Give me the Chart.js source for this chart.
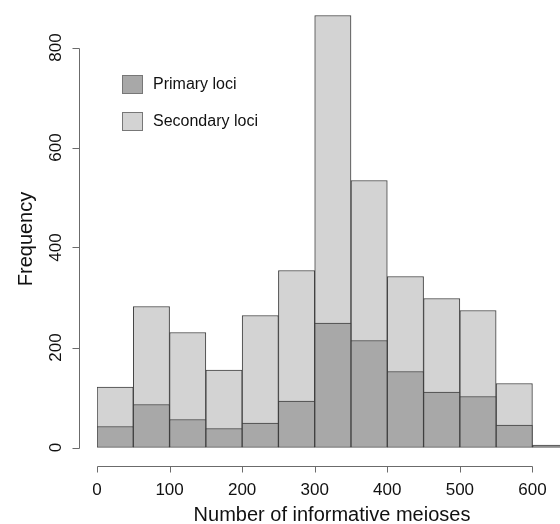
<!DOCTYPE html>
<html>
<head>
<meta charset="utf-8">
<script src="https://cdn.jsdelivr.net/npm/chart.js@4"></script>
<style>
  html, body { margin: 0; padding: 0; background: #fff; }
  #wrap { width: 560px; height: 524px; }
</style>
</head>
<body>
<div id="wrap"><canvas id="hist" width="560" height="524"></canvas></div>
<script>
'use strict';

/* ─── Data ─── */
const binCenters    = [25, 75, 125, 175, 225, 275, 325, 375, 425, 475, 525, 575, 625];
const secondaryLoci = [121, 282, 230, 155, 264, 354, 864, 534, 342, 298, 274, 128, 5];
const primaryLoci   = [42, 86, 56, 38, 49, 93, 249, 214, 152, 111, 102, 45, 3];
const xTicks        = [0, 100, 200, 300, 400, 500, 600];
const yTicks        = [0, 200, 400, 600, 800];

const xTitle = 'Number of informative meioses';
const yTitle = 'Frequency';

const FONT = '"Liberation Sans", Arial, sans-serif';

const toPoints = vals => vals.map((v, i) => ({ x: binCenters[i], y: v }));

/* ─── R-style axes, labels and legend ─── */
const baseAxes = {
  id: 'baseAxes',
  afterDraw(chart) {
    const { ctx, scales: { x, y } } = chart;
    ctx.save();
    ctx.strokeStyle = '#6b6b6b';
    ctx.lineWidth = 1;
    ctx.fillStyle = '#111';

    // y axis
    const ax = 79.5;
    const y0 = Math.round(y.getPixelForValue(yTicks[0])) + 0.5;
    const y1 = Math.round(y.getPixelForValue(yTicks[yTicks.length - 1])) + 0.5;
    ctx.beginPath();
    ctx.moveTo(ax, y0); ctx.lineTo(ax, y1);
    yTicks.forEach(t => {
      const py = Math.round(y.getPixelForValue(t)) + 0.5;
      ctx.moveTo(ax, py); ctx.lineTo(ax - 7, py);
    });
    ctx.stroke();

    ctx.font = '17px ' + FONT;
    ctx.textAlign = 'center';
    ctx.textBaseline = 'alphabetic';
    yTicks.forEach(t => {
      ctx.save();
      ctx.translate(61, y.getPixelForValue(t));
      ctx.rotate(-Math.PI / 2);
      ctx.fillText(String(t), 0, 0);
      ctx.restore();
    });

    // x axis
    const ay = 466.5;
    const x0 = Math.round(x.getPixelForValue(xTicks[0])) + 0.5;
    const x1 = Math.round(x.getPixelForValue(xTicks[xTicks.length - 1])) + 0.5;
    ctx.beginPath();
    ctx.moveTo(x0, ay); ctx.lineTo(x1, ay);
    xTicks.forEach(t => {
      const px = Math.round(x.getPixelForValue(t)) + 0.5;
      ctx.moveTo(px, ay); ctx.lineTo(px, ay + 6);
    });
    ctx.stroke();

    xTicks.forEach(t => ctx.fillText(String(t), x.getPixelForValue(t), 495));

    // titles
    ctx.font = '20px ' + FONT;
    ctx.fillText(xTitle, 332, 521);
    ctx.save();
    ctx.translate(32, 239);
    ctx.rotate(-Math.PI / 2);
    ctx.fillText(yTitle, 0, 0);
    ctx.restore();

    // legend
    ctx.font = '16px ' + FONT;
    ctx.textAlign = 'left';
    ctx.textBaseline = 'middle';
    const rows = [chart.data.datasets[1], chart.data.datasets[0]];
    rows.forEach((ds, i) => {
      const top = 75 + i * 37;
      ctx.fillStyle = ds.backgroundColor;
      ctx.fillRect(122, top, 21, 19);
      ctx.strokeStyle = '#777';
      ctx.strokeRect(122.5, top + 0.5, 20, 18);
      ctx.fillStyle = '#111';
      ctx.fillText(ds.label, 153, top + 10);
    });

    ctx.restore();
  }
};

/* ─── Chart ─── */
new Chart(document.getElementById('hist'), {
  type: 'bar',
  data: {
    datasets: [
      {
        label: 'Secondary loci',
        data: toPoints(secondaryLoci),
        backgroundColor: '#d3d3d3',
        borderColor: '#3f3f3f',
        borderWidth: 1,
        borderSkipped: false,
        grouped: false,
        order: 1,
        barPercentage: 1,
        categoryPercentage: 1
      },
      {
        label: 'Primary loci',
        data: toPoints(primaryLoci),
        backgroundColor: '#a8a8a8',
        borderColor: '#3f3f3f',
        borderWidth: 1,
        borderSkipped: false,
        grouped: false,
        order: 0,
        barPercentage: 1,
        categoryPercentage: 1
      }
    ]
  },
  options: {
    responsive: false,
    animation: false,
    layout: { padding: { left: 97, right: 0, top: 5, bottom: 76.5 } },
    plugins: {
      legend: { display: false },
      tooltip: { enabled: false }
    },
    scales: {
      x: { type: 'linear', display: false, min: 0, max: 638, offset: false },
      y: { type: 'linear', display: false, min: 0, max: 885 }
    }
  },
  plugins: [baseAxes]
});
</script>
</body>
</html>
